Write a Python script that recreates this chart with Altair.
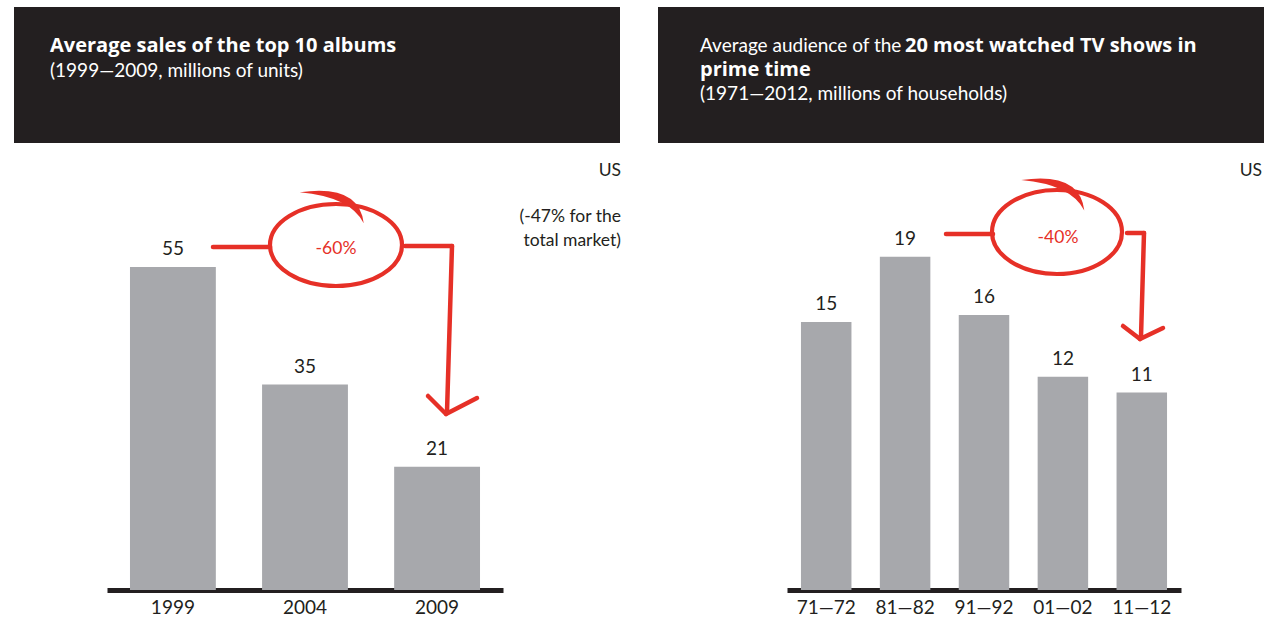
import altair as alt
import pandas as pd

# ---- data ----
album_years = ["1999", "2004", "2009"]
album_sales = [55, 35, 21]

tv_seasons = ["71—72", "81—82", "91—92", "01—02", "11—12"]
tv_audience = [15.2, 18.9, 15.6, 12.1, 11.2]

# ---- style ----
DARK = "#231f20"
GREY = "#a7a8ac"
RED = "#e63027"
FONT = "Lato"
BFONT = "Open Sans"
H = 590

one = pd.DataFrame({"k": [0]})


def rect(x1, y1, x2, y2):
    return alt.Chart(one).mark_rect(color=DARK).encode(
        x=alt.value(x1), x2=alt.value(x2), y=alt.value(y1), y2=alt.value(y2))


def txt(s, x, y, size=19, bold=False, color=DARK, align="left"):
    return alt.Chart(one).mark_text(
        text=s, align=align, baseline="alphabetic",
        font=BFONT if bold else FONT, fontSize=size,
        fontWeight="bold" if bold else "normal", color=color
    ).encode(x=alt.value(x), y=alt.value(y))


def seg(x1, y1, x2, y2, w=4.5):
    return alt.Chart(one).mark_rule(color=RED, strokeWidth=w, strokeCap="round").encode(
        x=alt.value(x1), x2=alt.value(x2), y=alt.value(y1), y2=alt.value(y2))


def ellipse(cx, cy, rx, ry):
    r = ry / rx
    k = 0.5523
    path = (f"M -1 0 C -1 {-k*r:.3f} {-k:.3f} {-r:.3f} 0 {-r:.3f} "
            f"C {k:.3f} {-r:.3f} 1 {-k*r:.3f} 1 0 "
            f"C 1 {k*r:.3f} {k:.3f} {r:.3f} 0 {r:.3f} "
            f"C {-k:.3f} {r:.3f} -1 {k*r:.3f} -1 0 Z")
    size = (2 * rx) ** 2
    ell = alt.Chart(one).mark_point(
        shape=path, filled=False, color=RED, strokeWidth=4.2, opacity=1, size=size
    ).encode(x=alt.value(cx), y=alt.value(cy))
    tail_path = "M -0.55 -0.80 Q 0.35 -0.93 0.42 -0.33 Q 0.22 -0.73 -0.55 -0.80 Z"
    tail = alt.Chart(one).mark_point(
        shape=tail_path, filled=True, color=RED, strokeWidth=1.5, opacity=1, size=size
    ).encode(x=alt.value(cx), y=alt.value(cy))
    return ell + tail


def panel(cats, vals, dom_top, rng, pi, po):
    df = pd.DataFrame({"cat": cats, "val": vals})
    x = alt.X("cat:N", sort=cats,
              scale=alt.Scale(range=rng, paddingInner=pi, paddingOuter=po),
              axis=alt.Axis(title=None, ticks=False, domainColor=DARK, domainWidth=5,
                            labelFont=FONT, labelFontSize=19, labelColor=DARK,
                            labelPadding=8.5, labelAngle=0))
    y = alt.Y("val:Q", scale=alt.Scale(domain=[0, dom_top], nice=False, zero=True), axis=None)
    bars = alt.Chart(df).mark_bar(color=GREY).encode(x=x, y=y)
    labels = alt.Chart(df).mark_text(
        dy=-12, baseline="alphabetic", font=FONT, fontSize=19, color=DARK
    ).encode(x=x, y=y, text=alt.Text("val:Q", format=".0f"))
    return bars, labels


# ---- left panel ----
lb, ll = panel(album_years, album_sales, 100.5, [107, 503], 0.35, 0.174)
left = alt.layer(
    rect(14, 7, 620, 143),
    txt("Average sales of the top 10 albums", 50, 52, size=20, bold=True, color="white"),
    txt("(1999—2009, millions of units)", 50, 77, color="white"),
    txt("US", 621, 176, size=17.5, align="right"),
    txt("(-47% for the", 621, 222, size=17.5, align="right"),
    txt("total market)", 621, 246, size=17.5, align="right"),
    lb, ll,
    seg(213, 247, 270, 247),
    ellipse(336, 245, 66, 41),
    txt("-60%", 336, 254, size=17.5, color=RED, align="center"),
    seg(405, 246, 452, 246),
    seg(452, 246, 447, 412),
    seg(428, 396, 446, 414),
    seg(446, 414, 477, 398),
).properties(width=644, height=H)

# ---- right panel ----
rb, rl = panel(tv_seasons, tv_audience, 33.47, [143, 537], 0.36, 0.177)
right = alt.layer(
    rect(14, 7, 620, 143),
    txt("Average audience of the", 56, 52, color="white"),
    txt("20 most watched TV shows in", 261, 52, size=20, bold=True, color="white"),
    txt("prime time", 56, 76, size=20, bold=True, color="white"),
    txt("(1971—2012, millions of households)", 56, 100, color="white"),
    txt("US", 618, 176, size=17.5, align="right"),
    rb, rl,
    seg(302, 234, 349, 234),
    ellipse(413, 232, 65, 42),
    txt("-40%", 414, 243, size=17.5, color=RED, align="center"),
    seg(483, 233, 500, 233),
    seg(500, 233, 497, 337),
    seg(479, 326, 496, 339),
    seg(496, 339, 519, 328),
).properties(width=620, height=H)

chart = alt.hconcat(left, right, spacing=0).properties(
    padding=0, background="white",
).configure_view(stroke=None)

chart.save("out.html", embed_options={"renderer": "svg", "actions": False})
